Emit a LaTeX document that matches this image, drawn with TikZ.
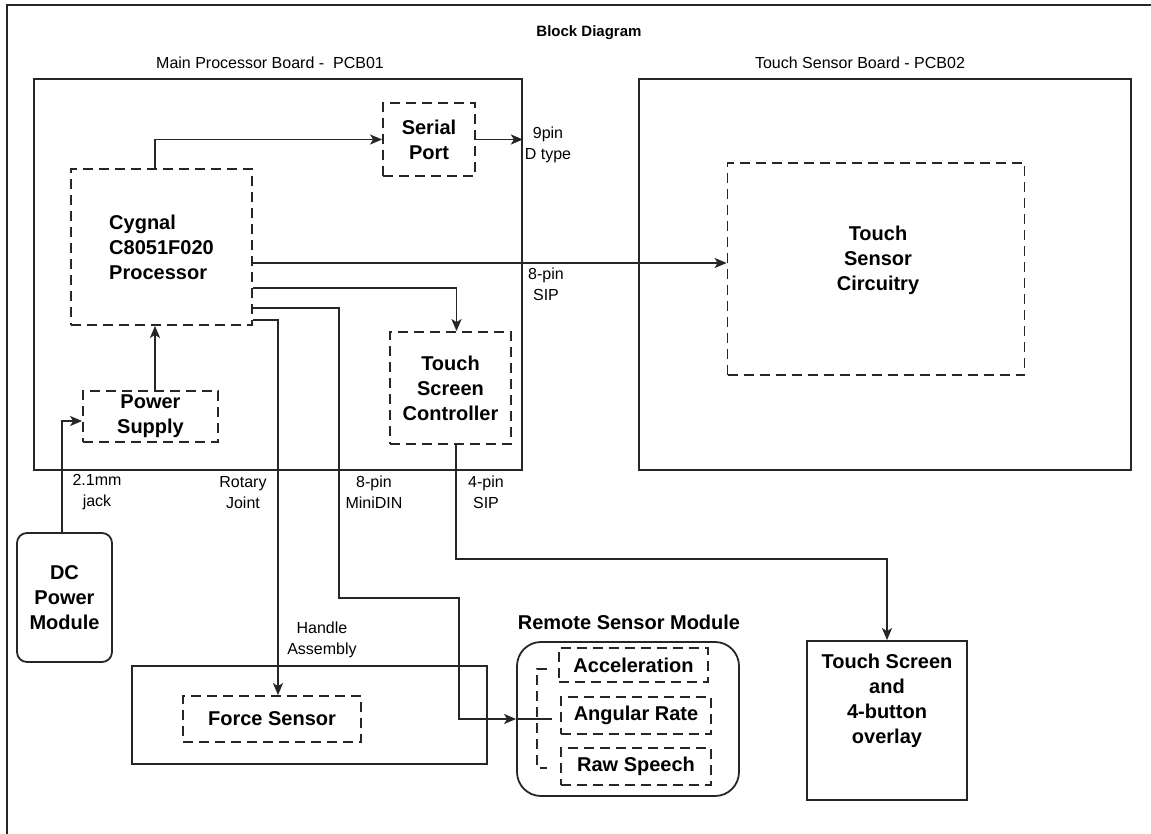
\documentclass[tikz,border=0pt]{standalone}
\usepackage{fontspec}
\setmainfont{Liberation Sans}
\usetikzlibrary{arrows.meta,calc}

\newcommand\lblfont{\fontsize{16}{21}\selectfont}
\newcommand\blkfont{\fontsize{20}{25}\selectfont\bfseries}

\begin{document}
\begin{tikzpicture}[x=1pt,y=-1pt,line width=1.7pt,
  ink/.style={draw=black!85},
  board/.style={ink,line width=1.8pt,inner sep=0pt},
  dbox/.style={ink,line width=1.8pt,dash pattern=on 10pt off 6pt,inner sep=0pt,
               font=\blkfont,align=center},
  lbl/.style={font=\lblfont,align=center,inner sep=0pt},
  blk/.style={font=\blkfont,align=center,inner sep=0pt},
  wire/.style={ink,line width=1.7pt,-{Stealth[length=12pt,width=10pt,inset=3pt]}},
  plain/.style={ink,line width=1.7pt}]

\useasboundingbox (0,0) rectangle (1151,834);

% page frame (left and top edges only)
\draw[ink,line width=1.8pt] (7,834) -- (7,5) -- (1151,5);

\node[font=\fontsize{15}{18}\selectfont\bfseries,inner sep=0pt] (title) at (589,33) {Block Diagram};

% ---- main processor board ----
\node[lbl] (mainlbl) at (270,63) {Main Processor Board -\ \ PCB01};
\node[board,minimum width=488pt,minimum height=391pt] (mainboard) at (278,274.5) {};

\node[dbox,minimum width=92pt,minimum height=73pt] (serial) at (429,139.5) {Serial\\Port};
\node[dbox,minimum width=181pt,minimum height=156pt,align=left] (cygnal) at (161.5,247)
  {Cygnal\\C8051F020\\Processor};
\node[dbox,minimum width=135pt,minimum height=51pt] (power) at (150.5,416.5) {Power\\Supply};
\node[dbox,minimum width=121pt,minimum height=112pt] (tsc) at (450.5,388) {Touch\\Screen\\Controller};

% ---- touch sensor board ----
\node[lbl] (tslbl) at (860,63) {Touch Sensor Board - PCB02};
\node[board,minimum width=492pt,minimum height=391pt] (tsboard) at (885,274.5) {};
\node[dbox,minimum width=297pt,minimum height=212pt] (tscirc) at (876,269) {};
\node[blk] (tscirctext) at (878,260) {Touch\\Sensor\\Circuitry};

% ---- external modules ----
\node[board,rounded corners=10pt,minimum width=95pt,minimum height=129pt,
      font=\blkfont,align=center] (dc) at (64.5,597.5) {DC\\Power\\Module};

\node[board,minimum width=355pt,minimum height=98pt] (handle) at (309.5,715) {};
\node[dbox,minimum width=178pt,minimum height=46pt] (force) at (272,719) {Force Sensor};

\node[blk] (rsmlbl) at (629,622) {Remote Sensor Module};
\node[board,rounded corners=24pt,minimum width=222pt,minimum height=154pt] (rsm) at (628,719) {};
\node[dbox,minimum width=149pt,minimum height=34pt] (accel) at (633.5,665) {Acceleration};
\node[dbox,minimum width=150pt,minimum height=37pt] (angular) at (636,715.5) {Angular Rate};
\node[dbox,minimum width=150pt,minimum height=37pt] (raw) at (636,766.5) {Raw Speech};

\node[board,minimum width=160pt,minimum height=159pt] (ts) at (887,720.5) {};
\node[blk] (tstext) at ($(ts.center)+(0,-20)$) {Touch Screen\\and\\4-button\\overlay};

% ---- connector labels ----
\node[lbl] (l9pin) at (548,144.5) {9pin\\D type};
\node[lbl] (l8sip) at (546,284) {8-pin\\SIP};
\node[lbl] (ljack) at (97,492.5) {2.1mm\\jack};
\node[lbl] (lrot) at (243,492.5) {Rotary\\Joint};
\node[lbl] (lmini) at (374,492.5) {8-pin\\MiniDIN};
\node[lbl] (l4sip) at (486,492.5) {4-pin\\SIP};
\node[lbl] (lhandle) at (322,640) {Handle\\Assembly};

% ---- connector start points on the processor ----
\coordinate (pSIP)   at ($(cygnal.east)+(0,16)$);
\coordinate (pTSC)   at ($(cygnal.east)+(0,41)$);
\coordinate (pMini)  at ($(cygnal.east)+(0,61)$);
\coordinate (pRot)   at ($(cygnal.east)+(0,73)$);
% jog of the MiniDIN cable around the handle assembly
\coordinate (jogA)   at ($(rsm.west)+(-177,-121)$);
\coordinate (jogB)   at ($(rsm.west)+(-57,-121)$);

% ---- connectors ----
\draw[wire] ($(cygnal.north)+(-6.5,0)$) |- (serial.west);
\draw[wire] (serial.east) -- (serial.east -| mainboard.east);
\draw[wire] (pSIP) -- (pSIP -| tscirc.west);
\draw[wire] (pTSC) -| ($(tsc.north)+(6,0)$);
\draw[wire] (pMini) -| (jogA) -- (jogB) |- (rsm.west);
\draw[wire] (pRot) -| ($(force.north)+(6,0)$);
\draw[wire] ($(power.north)+(4.5,0)$) -- ($(cygnal.south)+(-6.5,0)$);
\draw[wire] ($(dc.north)+(-2.5,0)$) |- ($(power.west)+(0,4.5)$);
\draw[wire] ($(tsc.south)+(5.5,0)$) |- ($(ts.north)+(0,-81)$) -- (ts.north);

% bus bracket inside the remote sensor module
\draw[plain] (rsm.west) -- ++(36,0);
\draw[ink,line width=1.7pt,dash pattern=on 10pt off 6pt]
  ($(rsm.west)+(31,-50)$) -- ++(-10,0) -- ++(0,99) -- ++(10,0);

\end{tikzpicture}
\end{document}
